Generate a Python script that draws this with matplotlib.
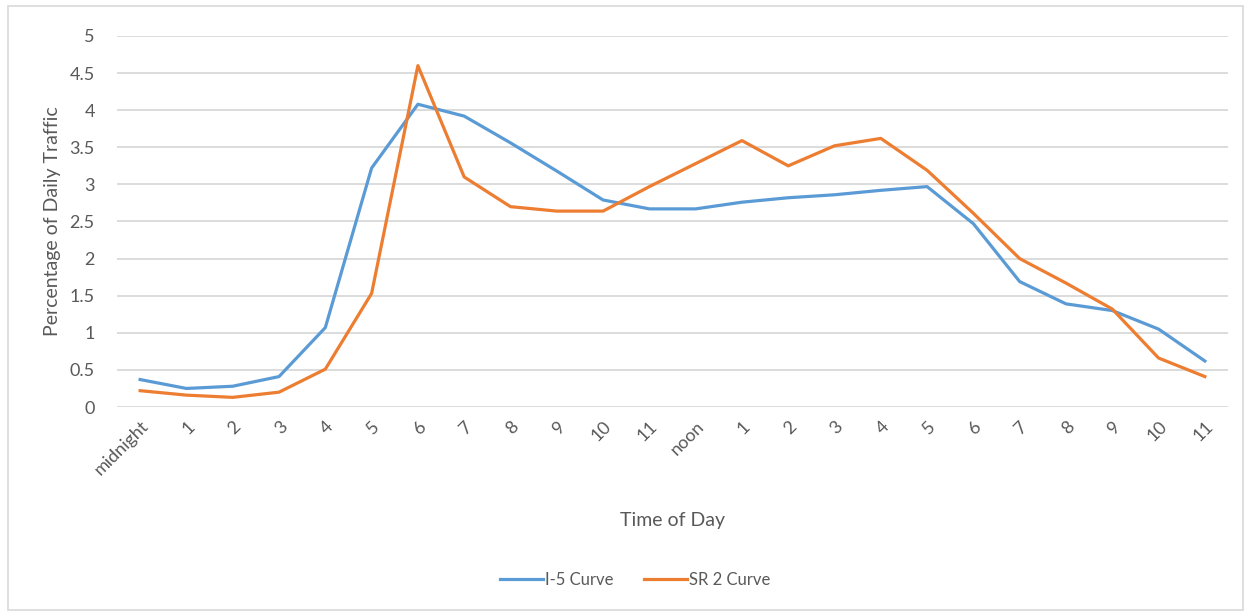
import matplotlib
matplotlib.use("Agg")
import matplotlib.pyplot as plt
from matplotlib.patches import Rectangle

# Stunden-Kategorien (Excel-Style Achse)
hours = ["midnight", "1", "2", "3", "4", "5", "6", "7", "8", "9", "10", "11",
         "noon", "1", "2", "3", "4", "5", "6", "7", "8", "9", "10", "11"]

# Anteil am Tagesverkehr (%)
i5_curve = [0.37, 0.25, 0.28, 0.41, 1.07, 3.22, 4.08, 3.92, 3.56, 3.18, 2.79, 2.67,
            2.67, 2.76, 2.82, 2.86, 2.92, 2.97, 2.47, 1.69, 1.39, 1.30, 1.05, 0.62]
sr2_curve = [0.22, 0.16, 0.13, 0.20, 0.51, 1.53, 4.60, 3.10, 2.70, 2.64, 2.64, 2.97,
             3.28, 3.59, 3.25, 3.52, 3.62, 3.19, 2.61, 2.00, 1.67, 1.32, 0.66, 0.41]

yticks = [0, 0.5, 1, 1.5, 2, 2.5, 3, 3.5, 4, 4.5, 5]
ytick_labels = ["0", "0.5", "1", "1.5", "2", "2.5", "3", "3.5", "4", "4.5", "5"]

BLUE = "#5B9BD5"
ORANGE = "#ED7D31"
GRID = "#D9D9D9"
TEXT = "#595959"

plt.rcParams["font.family"] = ["Lato", "DejaVu Sans"]

fig = plt.figure(figsize=(12.5, 6.15), dpi=100)
ax = fig.add_axes([0.0936, 0.3382, 0.8888, 0.6033])

x = list(range(len(hours)))
ax.plot(x, i5_curve, color=BLUE, lw=2.3, label="I-5 Curve", solid_joinstyle="round")
ax.plot(x, sr2_curve, color=ORANGE, lw=2.3, label="SR 2 Curve", solid_joinstyle="round")

ax.set_xlim(-0.5, len(hours) - 0.5)
ax.set_ylim(0, 5)
ax.set_yticks(yticks)
ax.set_yticklabels(ytick_labels)
ax.set_xticks(x)
ax.set_xticklabels(hours, rotation=45, ha="right", rotation_mode="anchor")

ax.grid(axis="y", color=GRID, lw=1.3)
ax.set_axisbelow(True)
for s in ax.spines.values():
    s.set_visible(False)
ax.tick_params(axis="both", length=0, colors=TEXT, labelsize=13)
ax.tick_params(axis="y", pad=16)
ax.tick_params(axis="x", pad=8)

ax.set_ylabel("Percentage of Daily Traffic", color=TEXT, fontsize=14, labelpad=6)
ax.set_xlabel("Time of Day", color=TEXT, fontsize=14, labelpad=24)

leg = fig.legend(loc="center", bbox_to_anchor=(0.508, 0.057), ncol=2, frameon=False,
                 fontsize=12, handlelength=2.6, handletextpad=0.1, columnspacing=1.8)
for t in leg.get_texts():
    t.set_color(TEXT)

# Rahmen um das Diagramm
fig.patches.append(Rectangle((0.006, 0.008), 0.988, 0.982, transform=fig.transFigure,
                             fill=False, edgecolor="#D9D9D9", lw=1.2))

fig.savefig("out.png", dpi=100)
